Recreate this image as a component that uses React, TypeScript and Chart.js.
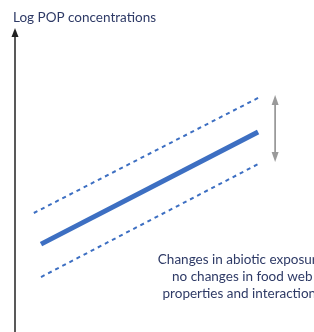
import React, { useEffect, useRef } from "react";
import { Chart, registerables } from "chart.js";

Chart.register(...registerables);

const yTitle = "Log POP concentrations";
const noteLines = ["Changes in abiotic exposure,", "no changes in food web", "properties and interactions"];

const meanX = [0.87, 8.13];
const meanY = [2.91, 6.62];
const upperX = [0.63, 8.13];
const upperY = [3.94, 7.75];
const lowerX = [0.87, 8.13];
const lowerY = [1.82, 5.56];
const spanX = 8.7;
const spanY = [5.63, 7.85];
const noteX = 7.6;
const noteY = [2.25, 1.69, 1.13];

const blue = "#3d6fc2";

const overlay = {
  id: "overlay",
  afterDatasetsDraw(chart: any) {
    const { ctx, chartArea, scales } = chart;
    const xs = scales.x;
    const ys = scales.y;
    ctx.save();
    // y axis with arrow
    const ax = chartArea.left;
    ctx.strokeStyle = "#222";
    ctx.fillStyle = "#222";
    ctx.lineWidth = 1.5;
    ctx.beginPath();
    ctx.moveTo(ax, chartArea.bottom);
    ctx.lineTo(ax, chartArea.top + 4);
    ctx.stroke();
    ctx.beginPath();
    ctx.moveTo(ax, chartArea.top - 2);
    ctx.lineTo(ax - 3.5, chartArea.top + 7);
    ctx.lineTo(ax + 3.5, chartArea.top + 7);
    ctx.closePath();
    ctx.fill();
    // title
    ctx.font = "13.5px Lato, 'Open Sans', sans-serif";
    ctx.fillStyle = "#2e3a66";
    ctx.textAlign = "left";
    ctx.textBaseline = "alphabetic";
    ctx.fillText(yTitle, ax - 2, chartArea.top - 8);
    // double arrow
    const px = xs.getPixelForValue(spanX);
    const pTop = ys.getPixelForValue(spanY[1]);
    const pBot = ys.getPixelForValue(spanY[0]);
    ctx.strokeStyle = "#9a9a9a";
    ctx.fillStyle = "#9a9a9a";
    ctx.lineWidth = 1.8;
    ctx.beginPath();
    ctx.moveTo(px, pTop + 6);
    ctx.lineTo(px, pBot - 6);
    ctx.stroke();
    ctx.beginPath();
    ctx.moveTo(px, pTop);
    ctx.lineTo(px - 3.5, pTop + 10);
    ctx.lineTo(px + 3.5, pTop + 10);
    ctx.closePath();
    ctx.fill();
    ctx.beginPath();
    ctx.moveTo(px, pBot);
    ctx.lineTo(px - 3.5, pBot - 10);
    ctx.lineTo(px + 3.5, pBot - 10);
    ctx.closePath();
    ctx.fill();
    // note
    ctx.font = "13.5px Lato, 'Open Sans', sans-serif";
    ctx.fillStyle = "#2e3a66";
    ctx.textAlign = "center";
    noteLines.forEach((t, i) => {
      ctx.fillText(t, xs.getPixelForValue(noteX), ys.getPixelForValue(noteY[i]));
    });
    ctx.restore();
  },
};

export default function App() {
  const ref = useRef<HTMLCanvasElement>(null);
  useEffect(() => {
    document.body.style.margin = "0";
    const chart = new Chart(ref.current!, {
      type: "line",
      data: {
        datasets: [
          {
            data: upperX.map((x, i) => ({ x, y: upperY[i] })),
            borderColor: blue,
            borderWidth: 2,
            borderDash: [4, 4],
            pointRadius: 0,
          },
          {
            data: lowerX.map((x, i) => ({ x, y: lowerY[i] })),
            borderColor: blue,
            borderWidth: 2,
            borderDash: [4, 4],
            pointRadius: 0,
          },
          {
            data: meanX.map((x, i) => ({ x, y: meanY[i] })),
            borderColor: blue,
            borderWidth: 5,
            pointRadius: 0,
          },
        ],
      },
      options: {
        responsive: false,
        animation: false,
        layout: { padding: { left: 15, right: 0, top: 30, bottom: 0 } },
        plugins: { legend: { display: false }, tooltip: { enabled: false } },
        scales: {
          x: { type: "linear", min: 0, max: 10, display: false },
          y: { type: "linear", min: 0, max: 10, display: false },
        },
      },
      plugins: [overlay],
    });
    return () => chart.destroy();
  }, []);
  return (
    <div style={{ width: 314, height: 332 }}>
      <canvas ref={ref} width={314} height={332} />
    </div>
  );
}
